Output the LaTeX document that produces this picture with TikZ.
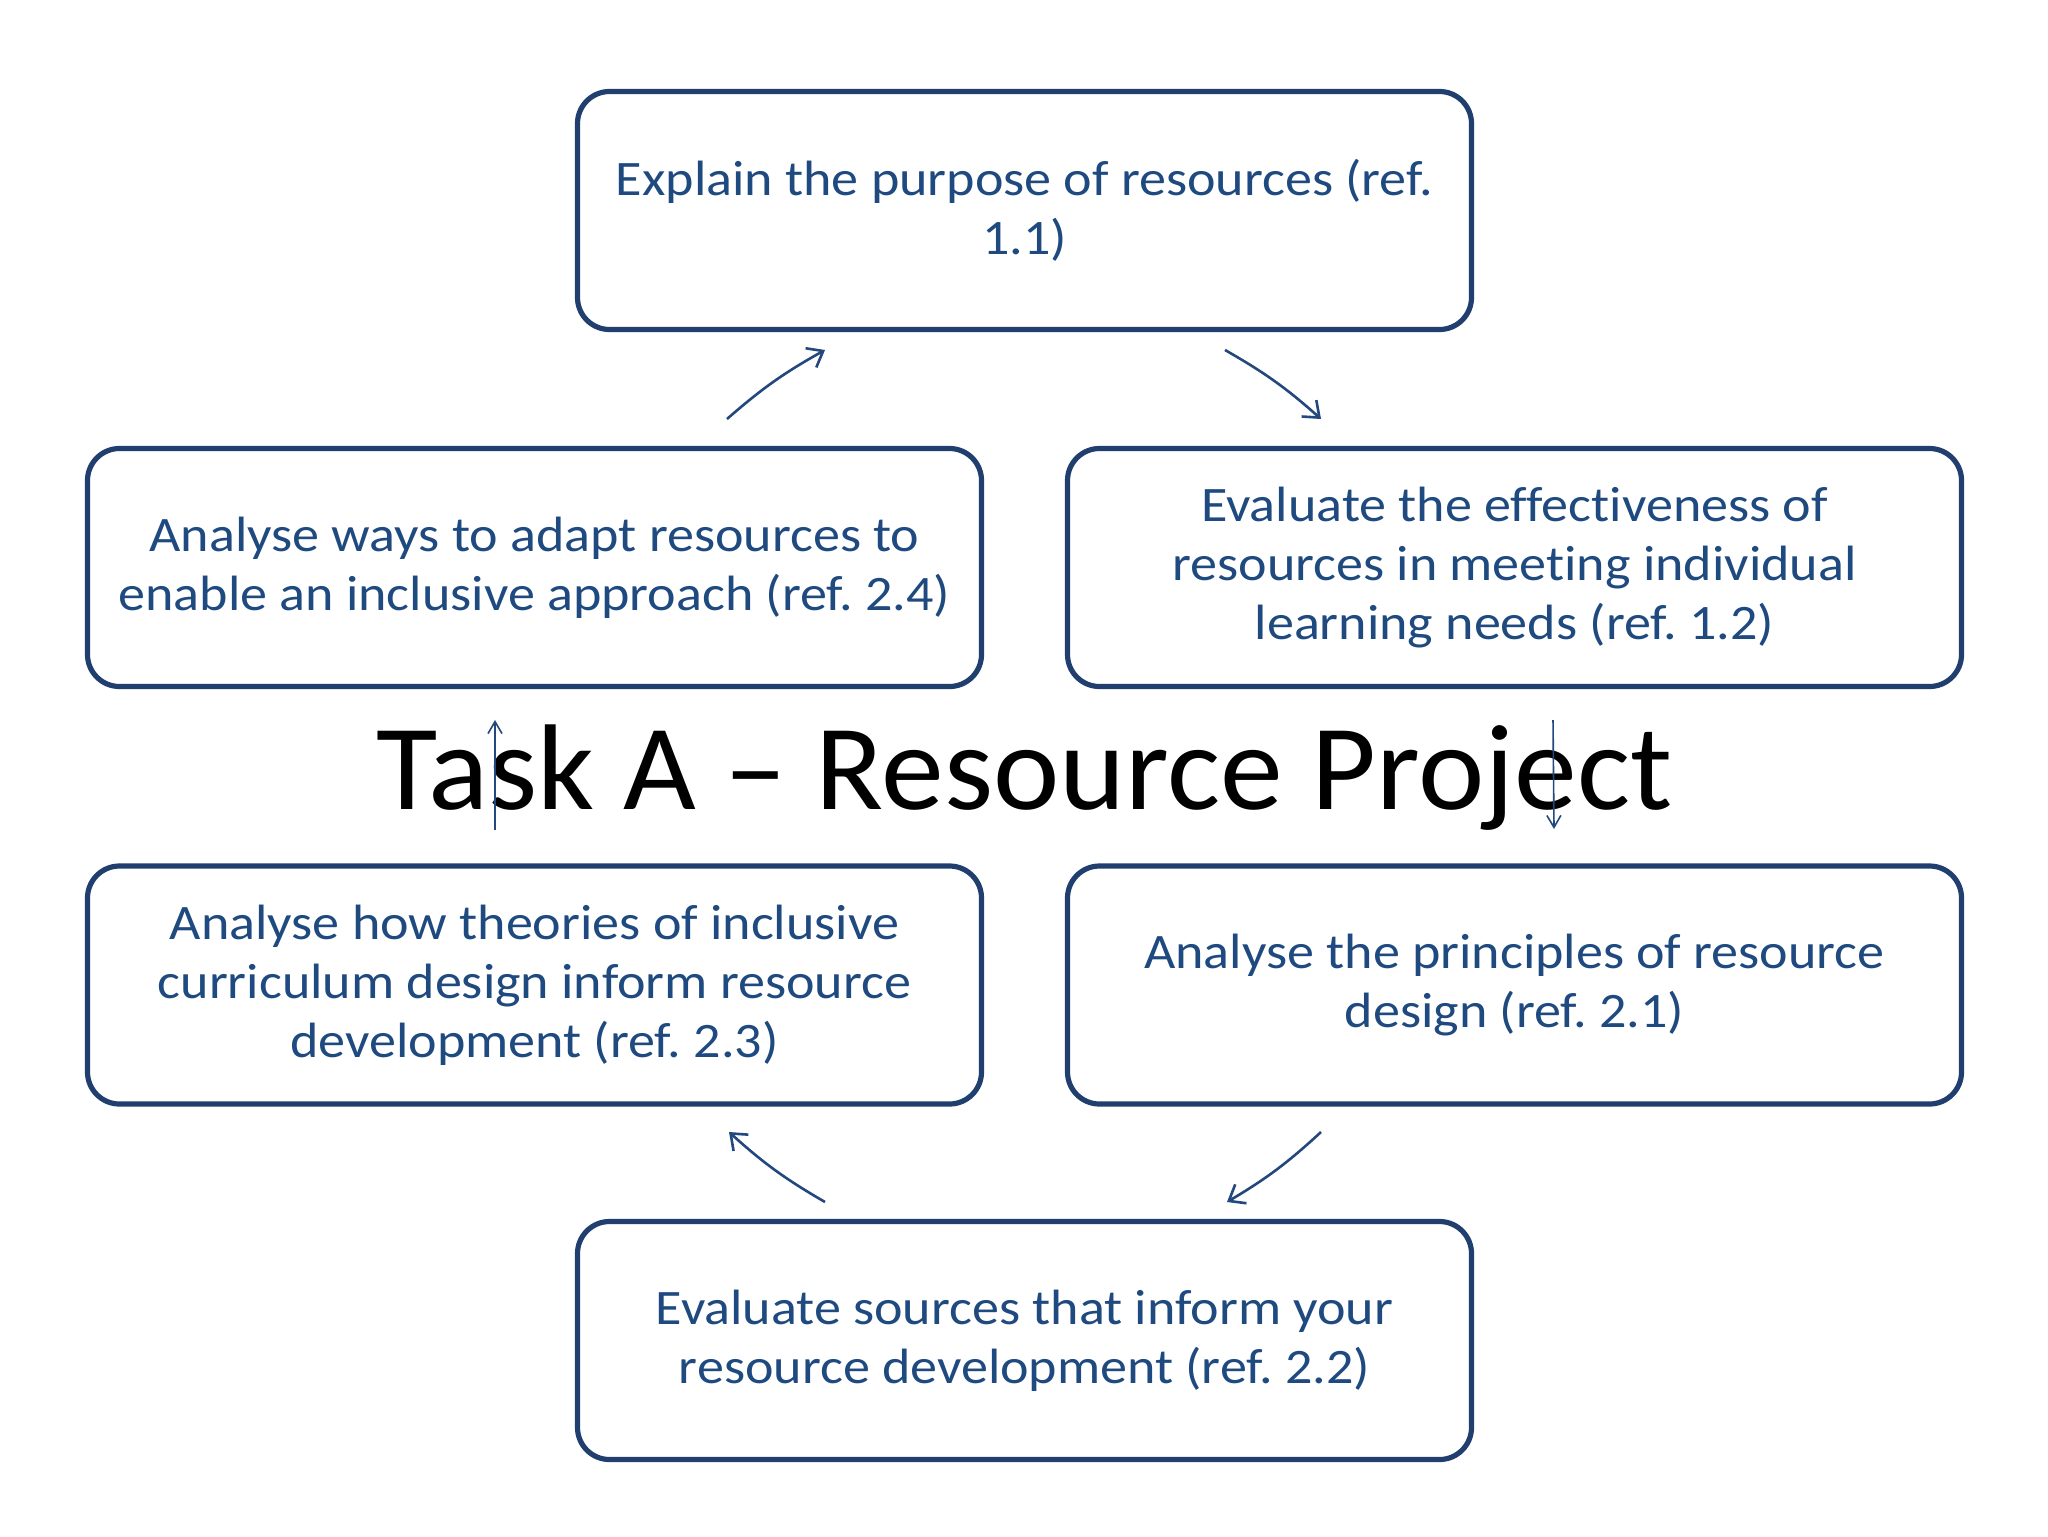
\documentclass[tikz,border=0pt]{standalone}
\usepackage{fontspec}
\setmainfont[Ligatures=NoCommon]{Carlito}
\newfontfamily\boxfont[Ligatures=NoCommon,FakeStretch=1.09]{Carlito}
\newfontfamily\titlefont[Ligatures=NoCommon,FakeStretch=1.03]{Carlito}
\usetikzlibrary{arrows.meta}
\definecolor{boxline}{HTML}{203F6E}
\definecolor{boxtext}{HTML}{1F4A80}
\definecolor{arrowc}{HTML}{22487D}
\frenchspacing
\begin{document}
\begin{tikzpicture}[x=0.5pt,y=-0.5pt,
  cbox/.style={draw=boxline,line width=2.6pt,rounded corners=16pt,
    minimum width=447pt,minimum height=119pt,align=center,text=boxtext,
    font=\boxfont\fontsize{24.8}{29.5}\selectfont\frenchspacing,inner sep=0pt,fill=white},
  carrow/.style={draw=arrowc,line width=1.3pt,-{Straight Barb[length=7pt,width=11pt]}},
  varrow/.style={draw=arrowc,line width=0.8pt,-{Straight Barb[length=6pt,width=7pt]}}]
\useasboundingbox[fill=white] (0,0) rectangle (2048,1536);
\node[cbox] (b11) at (1024.5,210.5) {Explain the purpose of resources (ref.\\1.1)};
\node[cbox] (b12) at (1514.5,567.5) {Evaluate the effectiveness of\\resources in meeting individual\\learning needs (ref. 1.2)};
\node[cbox] (b24) at (534.5,567.5) {Analyse ways to adapt resources to\\enable an inclusive approach (ref. 2.4)};
\node[cbox] (b21) at (1514.5,985) {Analyse the principles of resource\\design (ref. 2.1)};
\node[cbox] (b23) at (534.5,985) {Analyse how theories of inclusive\\curriculum design inform resource\\development (ref. 2.3)};
\node[cbox] (b22) at (1024.5,1340.5) {Evaluate sources that inform your\\resource development (ref. 2.2)};
\node[anchor=base,inner sep=0pt,font=\titlefont\fontsize{61}{66}\selectfont] (title) at (1024.5,809) {Task A – Resource Project};
\coordinate (a1s) at (727,419); \coordinate (a1e) at (825,350);
\coordinate (a2s) at (1225,350); \coordinate (a2e) at (1321,419);
\coordinate (a3s) at (1321,1132); \coordinate (a3e) at (1227,1202);
\coordinate (a4s) at (825,1202); \coordinate (a4e) at (729,1132);
\coordinate (v1s) at (495,830); \coordinate (v1e) at (495,720);
\coordinate (v2s) at (1553,720); \coordinate (v2e) at (1554,829);
\draw[carrow] (a1s) to[bend left=6] (a1e);
\draw[carrow] (a2s) to[bend left=6] (a2e);
\draw[carrow] (a3s) to[bend left=6] (a3e);
\draw[carrow] (a4s) to[bend left=6] (a4e);
\draw[varrow] (v1s) -- (v1e);
\draw[varrow] (v2s) -- (v2e);
\end{tikzpicture}
\end{document}
